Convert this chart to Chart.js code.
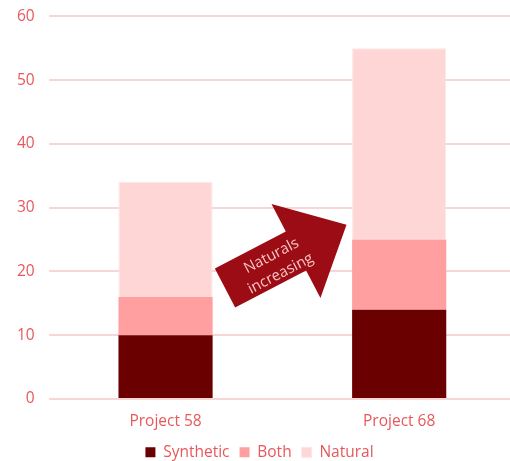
<!DOCTYPE html>
<html>
<head>
<meta charset="utf-8">
<script src="https://cdn.jsdelivr.net/npm/chart.js@4.4.1/dist/chart.umd.min.js"></script>
<style>
  html, body { margin: 0; padding: 0; background: #fff; overflow: hidden; }
  /* slightly wider than the window so the plot runs off the right edge as in the original */
  #wrap { width: 516px; height: 461px; }
</style>
</head>
<body>
<div id="wrap"><canvas id="projChart"></canvas></div>
<script>
const projects = ['Project 58', 'Project 68'];
const synthetic = [10, 14];
const both = [6, 11];
const natural = [18, 30];
const yTicks = [0, 10, 20, 30, 40, 50, 60];

const tickColor = '#e8585b';
const gridColor = '#f9d6d6';
const labelFont = { family: 'Open Sans', size: 15.5 };

// the red "Naturals increasing" arrow between the two bars
const arrowPlugin = {
  id: 'arrow',
  afterDatasetsDraw(chart) {
    const ctx = chart.ctx;
    ctx.save();
    ctx.translate(225, 288);
    ctx.rotate(-27.5 * Math.PI / 180);
    ctx.beginPath();
    ctx.moveTo(0, -22);
    ctx.lineTo(80, -22);
    ctx.lineTo(80, -53);
    ctx.lineTo(137, 0);
    ctx.lineTo(80, 53);
    ctx.lineTo(80, 22);
    ctx.lineTo(0, 22);
    ctx.closePath();
    ctx.fillStyle = '#9c0c14';
    ctx.fill();
    ctx.fillStyle = '#f8c4c4';
    ctx.font = '15px "Open Sans"';
    ctx.textAlign = 'center';
    ctx.textBaseline = 'middle';
    ctx.fillText('Naturals', 56, -7);
    ctx.fillText('increasing', 56, 13);
    ctx.restore();
  }
};

new Chart(document.getElementById('projChart'), {
  type: 'bar',
  data: {
    labels: projects,
    datasets: [
      { label: 'Synthetic', data: synthetic, backgroundColor: '#6b0000' },
      { label: 'Both', data: both, backgroundColor: '#ff9f9f' },
      { label: 'Natural', data: natural, backgroundColor: '#ffd6d6', borderColor: '#fde6e6', borderWidth: 1, borderSkipped: 'bottom' }
    ]
  },
  options: {
    responsive: true,
    maintainAspectRatio: false,
    animation: false,
    layout: { padding: { left: 3, right: 0, top: 0, bottom: -9 } },
    datasets: { bar: { categoryPercentage: 1, barPercentage: 0.403 } },
    scales: {
      x: {
        stacked: true,
        grid: { display: false, drawTicks: false },
        border: { display: false },
        ticks: { color: tickColor, font: labelFont, padding: 13 },
        afterFit: axis => { axis.height -= 9; }
      },
      y: {
        stacked: true,
        min: 0,
        max: 60,
        afterBuildTicks: axis => { axis.ticks = yTicks.map(v => ({ value: v })); },
        grid: { color: gridColor, lineWidth: 2, drawTicks: false },
        border: { display: false },
        ticks: { color: tickColor, font: { family: 'Open Sans', size: 15.5, lineHeight: 0.3 }, padding: 14 }
      }
    },
    plugins: {
      legend: {
        position: 'bottom',
        labels: {
          color: tickColor,
          font: labelFont,
          boxWidth: 10,
          boxHeight: 10,
          padding: 10
        }
      },
      tooltip: { enabled: false }
    }
  },
  plugins: [arrowPlugin]
});
</script>
</body>
</html>
